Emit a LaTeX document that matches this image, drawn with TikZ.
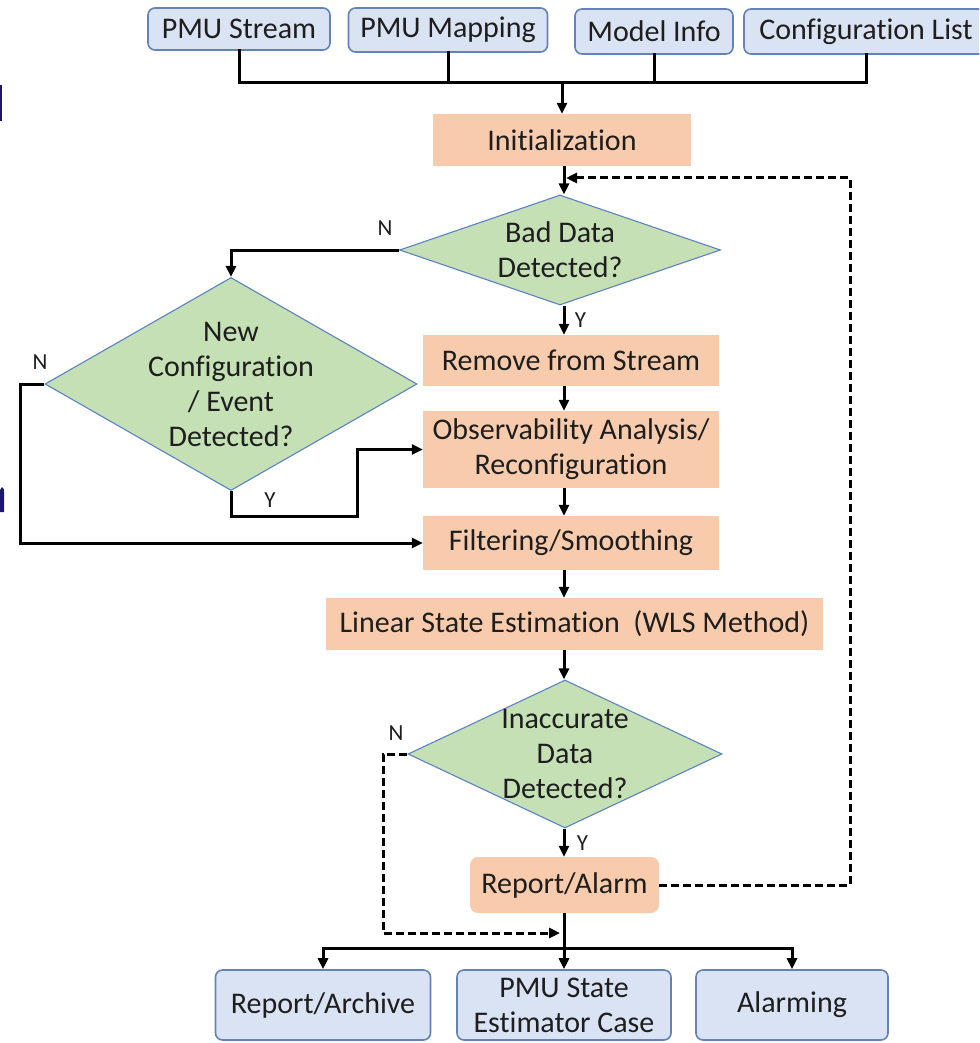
\documentclass[tikz,border=0pt]{standalone}
\usepackage{fontspec}
\setmainfont{Carlito}[Ligatures={NoCommon,NoRare}]
\usetikzlibrary{shapes.geometric,arrows.meta}
\definecolor{boxblue}{HTML}{DAE3F3}
\definecolor{edgeblue}{HTML}{6382B5}
\definecolor{stepfill}{HTML}{F8CBAD}
\definecolor{decfill}{HTML}{C5E0B4}
\definecolor{decedge}{HTML}{5B83C4}
\definecolor{txt}{HTML}{1E1E1E}
\definecolor{navy}{HTML}{1C1470}

\begin{document}
\begin{tikzpicture}[
  x=1pt, y=-1pt,
  io/.style={rectangle, rounded corners=7pt, draw=edgeblue, line width=1.6pt, fill=boxblue, inner sep=0pt, align=center},
  proc/.style={rectangle, fill=stepfill, inner sep=0pt, align=center},
  decision/.style={diamond, draw=decedge, line width=1.1pt, fill=decfill, inner sep=0pt},
  bus/.style={line width=3pt, line cap=rect},
  arrow/.style={line width=3pt, -{Triangle[length=11pt,width=10pt]}},
  dasharrow/.style={arrow, dash pattern=on 8pt off 4pt},
  yn/.style={font=\fontsize{23}{26}\selectfont},
  font=\fontsize{30}{35}\selectfont, text=txt
]
\useasboundingbox (0,0) rectangle (979,1043);
\clip (0,0) rectangle (979,1043);

% Inputs
\node[io, minimum width=182pt, minimum height=42pt] (stream) at (239,29) {PMU Stream};
\node[io, minimum width=199pt, minimum height=44pt] (mapping) at (448,30) {PMU Mapping};
\node[io, minimum width=158pt, minimum height=45pt] (model) at (654,31.5) {Model Info};
\node[io, minimum width=244pt, minimum height=45pt] (cfglist) at (866,31.5) {Configuration List};

% Main column
\node[proc, minimum width=258pt, minimum height=52pt] (init) at (562,140) {Initialization};
\node[decision, minimum width=321pt, minimum height=110pt,
  label={[align=center]center:Bad Data\\Detected?}] (bad) at (560,250) {};
\node[proc, minimum width=296pt, minimum height=51pt] (remove) at (571,360.5) {Remove from Stream};
\node[proc, minimum width=296pt, minimum height=77pt] (obs) at (571,449.5) {Observability Analysis/\\Reconfiguration};
\node[proc, minimum width=296pt, minimum height=54pt] (filter) at (571,543) {Filtering/Smoothing};
\node[proc, minimum width=497pt, minimum height=52pt] (lse) at (574.5,624) {Linear State Estimation\ \ (WLS Method)};
\node[decision, minimum width=314pt, minimum height=148pt,
  label={[align=center]center:Inaccurate\\Data\\Detected?}] (inacc) at (565,754) {};
\node[proc, rounded corners=8pt, minimum width=189pt, minimum height=56pt] (alarm) at (564.5,885) {Report/Alarm};

% Side check
\node[decision, minimum width=372pt, minimum height=213pt,
  label={[align=center]center:New\\Configuration\\/ Event\\Detected?}] (newcfg) at (231,384) {};

% Outputs
\node[io, minimum width=215pt, minimum height=70pt] (archive) at (323,1005) {Report/Archive};
\node[io, minimum width=214pt, minimum height=70pt] (pmucase) at (564,1005) {PMU State\\Estimator Case};
\node[io, minimum width=192pt, minimum height=70pt] (alarming) at (792,1005) {Alarming};

\coordinate (col) at (564,0);
\coordinate (merge) at (562,83);
\coordinate (split) at (564,948);
\coordinate (nleft) at (20,384);
\coordinate (yjog) at (357,516);
\coordinate (nback) at (383,933);
\coordinate (njoin) at (560,933);
\coordinate (fbtop) at (850,178);
\coordinate (fbin) at (566,178);

% Input bus
\draw[bus] (stream) |- (merge);
\draw[bus] (mapping) |- (merge);
\draw[bus] (model) |- (merge);
\draw[bus] (cfglist) |- (merge);
\draw[arrow] (merge) -- (init);

% Forward path
\draw[arrow] (init.south -| col) -- (bad.north -| col);
\draw[arrow] (bad.south -| col) -- node[yn, right=6pt] {Y} (remove.north -| col);
\draw[arrow] (remove.south -| col) -- (obs.north -| col);
\draw[arrow] (obs.south -| col) -- (filter.north -| col);
\draw[arrow] (filter.south -| col) -- (lse.north -| col);
\draw[arrow] (lse.south -| col) -- (inacc.north -| col);
\draw[arrow] (inacc.south -| col) -- node[yn, right=8pt] {Y} (alarm.north -| col);
\draw[arrow] (alarm.south -| col) -- (pmucase.north -| col);
\draw[arrow] (split) -| (archive.north);
\draw[arrow] (split) -| (alarming.north);

% Configuration branch
\draw[arrow] (bad.west) -| (newcfg.north);
\node[yn] (nbad) at (385,228) {N};
\draw[arrow] (newcfg.south) |- (yjog) |- (obs.west);
\node[yn] (ynew) at (270,500) {Y};
\draw[arrow] (newcfg.west) -- (nleft) |- (filter.west);
\node[yn] (nnew) at (40,362) {N};

% Feedback paths
\draw[dasharrow] (inacc.west) -| (nback) -- (njoin);
\node[yn] (ninacc) at (396,733) {N};
\draw[dasharrow] (alarm.east) -| (fbtop) -- (fbin);

% cut-off marks at left edge
\fill[navy] (0,85) rectangle (1.5,121);
\fill[navy] (0,512) -- (0,490) -- (2,487) .. controls (4,489) .. (4,492) -- (4,512) -- cycle;
\end{tikzpicture}
\end{document}
